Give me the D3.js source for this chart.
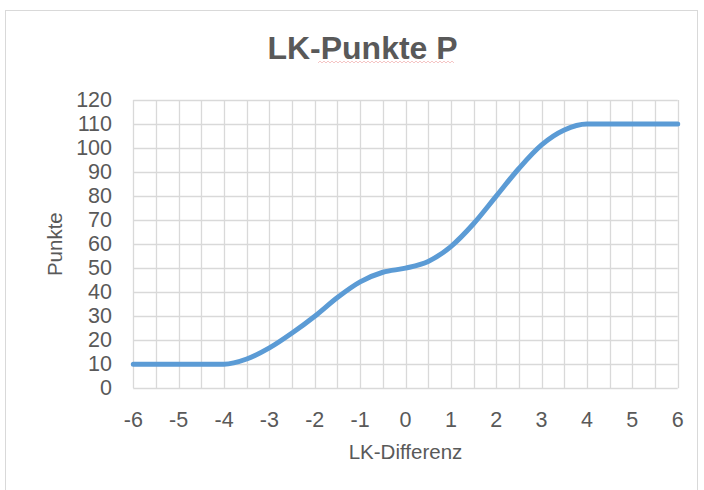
<!DOCTYPE html>
<html>
<head>
<meta charset="utf-8">
<script src="https://cdn.jsdelivr.net/npm/d3@7/dist/d3.min.js"></script>
<style>
  html, body { margin: 0; padding: 0; background: #fff; }
  svg { display: block; font-family: "Liberation Sans", Arial, sans-serif; }
</style>
</head>
<body>
<svg id="chart" width="704" height="490"></svg>
<script>
// ---- data ----
const lkDifferenz = [-6, -5.5, -5, -4.5, -4, -3.5, -3, -2.5, -2, -1.5, -1, -0.5, 0, 0.5, 1, 1.5, 2, 2.5, 3, 3.5, 4, 4.5, 5, 5.5, 6];
const punkte      = [10, 10, 10, 10, 10, 12.2, 16.8, 23, 30, 37.8, 44.3, 48.3, 50, 52.8, 59, 68.5, 80, 91.5, 101.3, 107.5, 110, 110, 110, 110, 110];
const xTicks = [-6, -5, -4, -3, -2, -1, 0, 1, 2, 3, 4, 5, 6];
const yTicks = [0, 10, 20, 30, 40, 50, 60, 70, 80, 90, 100, 110, 120];
const xGrid  = d3.range(-6, 6.001, 0.5);
const titleText = "LK-Punkte P";
const xTitle = "LK-Differenz";
const yTitle = "Punkte";

// ---- layout ----
const svg = d3.select("#chart");
const plot = { left: 133.3, right: 677.7, top: 100, bottom: 388.3 };
const textColor = "#595959";
const gridColor = "#d9d9d9";

const x = d3.scaleLinear().domain([-6, 6]).range([plot.left, plot.right]);
const y = d3.scaleLinear().domain([0, 120]).range([plot.bottom, plot.top]);

// chart border
svg.append("rect")
  .attr("x", 5.5).attr("y", 10.5)
  .attr("width", 692).attr("height", 500)
  .attr("fill", "none").attr("stroke", gridColor).attr("stroke-width", 1);

// title
svg.append("text")
  .attr("x", 362.5).attr("y", 59)
  .attr("text-anchor", "middle")
  .attr("font-size", 32).attr("font-weight", "bold")
  .attr("fill", textColor)
  .text(titleText);

// spellcheck squiggle under "Punkte P"
const sq = [];
for (let px = 318, i = 0; px <= 455; px += 2, i++) sq.push([px, i % 2 ? 61 : 63]);
svg.append("path")
  .attr("d", d3.line()(sq))
  .attr("fill", "none").attr("stroke", "#f2b8b8").attr("stroke-width", 0.8);

// gridlines
const g = svg.append("g");
g.selectAll(".hg").data(yTicks).join("line")
  .attr("x1", plot.left).attr("x2", plot.right)
  .attr("y1", d => Math.round(y(d)) + 0.5).attr("y2", d => Math.round(y(d)) + 0.5)
  .attr("stroke", gridColor).attr("stroke-width", 1.3);
g.selectAll(".vg").data(xGrid).join("line")
  .attr("x1", d => Math.round(x(d)) + 0.5).attr("x2", d => Math.round(x(d)) + 0.5)
  .attr("y1", plot.top).attr("y2", plot.bottom)
  .attr("stroke", gridColor).attr("stroke-width", 1.3);

// y tick labels
svg.append("g").selectAll("text").data(yTicks).join("text")
  .attr("x", 112).attr("y", d => y(d) + 6.5)
  .attr("text-anchor", "end")
  .attr("font-size", 21.5).attr("fill", textColor)
  .text(d => d);

// x tick labels
svg.append("g").selectAll("text").data(xTicks).join("text")
  .attr("x", d => x(d)).attr("y", 427)
  .attr("text-anchor", "middle")
  .attr("font-size", 21.5).attr("fill", textColor)
  .text(d => d);

// axis titles
svg.append("text")
  .attr("x", (plot.left + plot.right) / 2).attr("y", 459)
  .attr("text-anchor", "middle")
  .attr("font-size", 20.5).attr("fill", textColor)
  .text(xTitle);
svg.append("text")
  .attr("transform", `translate(61.5, ${(plot.top + plot.bottom) / 2}) rotate(-90)`)
  .attr("text-anchor", "middle")
  .attr("font-size", 20.5).attr("fill", textColor)
  .text(yTitle);

// series line
const data = lkDifferenz.map((d, i) => [d, punkte[i]]);
svg.append("path")
  .datum(data)
  .attr("d", d3.line().x(d => x(d[0])).y(d => y(d[1])).curve(d3.curveMonotoneX))
  .attr("fill", "none")
  .attr("stroke", "#5b9bd5")
  .attr("stroke-width", 5)
  .attr("stroke-linecap", "round")
  .attr("stroke-linejoin", "round");
</script>
</body>
</html>
